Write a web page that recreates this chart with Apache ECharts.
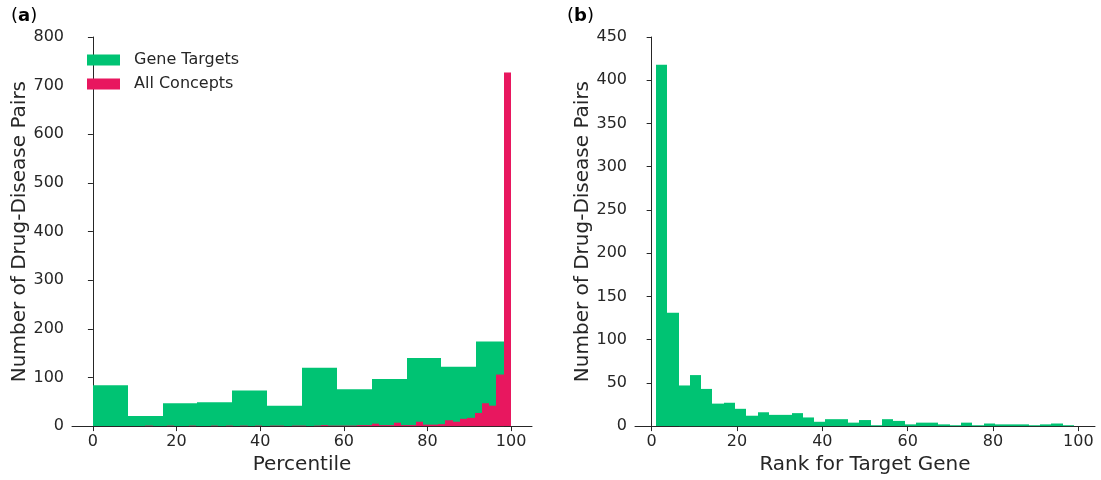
<!DOCTYPE html>
<html>
<head>
<meta charset="utf-8">
<script src="https://cdn.jsdelivr.net/npm/echarts@6/dist/echarts.min.js"></script>
<style>
html,body{margin:0;padding:0;background:#fff;}
#chart{width:1101px;height:480px;}
</style>
</head>
<body>
<div id="chart"></div>
<script>
// ---------- Data ----------
// Panel (a): Percentile histograms
const geneTargetsStart = 0;
const geneTargetsBinWidth = 100 / 12;
const geneTargetsCounts = [84, 21, 47, 49, 73, 42, 120, 76, 97, 140, 122, 174];

const allConceptsStart = 12.5;
const allConceptsBinWidth = 1.75;
const allConceptsCounts = [
  1, 0, 0, 1, 0, 0, 1, 0, 0, 1,
  0, 1, 0, 1, 0, 1, 0, 1, 1, 0,
  1, 1, 0, 1, 2, 1, 1, 1, 1, 2,
  2, 5, 2, 2, 7, 2, 2, 9, 3, 3,
  4, 12, 9, 15, 17, 27, 47, 42, 106, 727
];

// Panel (b): Rank for target gene histogram
const rankStart = 1;
const rankBinWidth = 98 / 37;
const rankCounts = [
  418, 131, 47, 59, 43, 26, 27, 20, 12, 16,
  13, 13, 15, 10, 5, 8, 8, 4, 7, 1,
  8, 6, 2, 4, 4, 2, 1, 4, 1, 3,
  2, 2, 2, 1, 2, 3, 1
];

const xTicks = [0, 20, 40, 60, 80, 100];
const seriesNames = ['Gene Targets', 'All Concepts'];
const xTitleA = 'Percentile';
const xTitleB = 'Rank for Target Gene';
const yTitle = 'Number of Drug-Disease Pairs';

// ---------- Styles ----------
const GREEN = '#00c373';
const PINK = '#e8175f';
const AXIS = '#262626';
const FONT = 'DejaVu Sans';

function binData(start, width, counts) {
  return counts.map((c, i) => [start + i * width, start + (i + 1) * width, c]);
}

function hist(name, start, width, counts, color, idx, z) {
  return {
    type: 'custom',
    name: name,
    xAxisIndex: idx,
    yAxisIndex: idx,
    z: z,
    itemStyle: { color: color },
    encode: { x: [0, 1], y: 2 },
    data: binData(start, width, counts),
    renderItem: function (params, api) {
      const p0 = api.coord([api.value(0), api.value(2)]);
      const p1 = api.coord([api.value(1), 0]);
      const x0 = Math.round(p0[0]);
      const x1 = Math.round(p1[0]);
      return {
        type: 'rect',
        shape: { x: x0, y: p0[1], width: x1 - x0, height: p1[1] - p0[1] },
        style: { fill: color }
      };
    }
  };
}

function xAxisDef(idx, min, max, title) {
  return {
    type: 'value', gridIndex: idx, min: min, max: max,
    name: title, nameLocation: 'middle', nameGap: 27,
    nameTextStyle: { fontFamily: FONT, fontSize: 20, color: AXIS },
    axisLine: { show: true, onZero: false, lineStyle: { color: AXIS, width: 1 } },
    axisTick: { show: true, length: 5, customValues: xTicks, lineStyle: { color: AXIS } },
    axisLabel: { customValues: xTicks, fontFamily: FONT, fontSize: 16, color: AXIS, margin: 8 },
    splitLine: { show: false }
  };
}

function yAxisDef(idx, max, interval) {
  return {
    type: 'value', gridIndex: idx, min: 0, max: max, interval: interval,
    name: yTitle, nameLocation: 'middle', nameGap: 42, nameRotate: 90,
    nameTextStyle: { fontFamily: FONT, fontSize: 20, color: AXIS },
    axisLine: { show: true, lineStyle: { color: AXIS, width: 1 } },
    axisTick: { show: true, length: 5, lineStyle: { color: AXIS } },
    axisLabel: { fontFamily: FONT, fontSize: 16, color: AXIS, margin: 8 },
    splitLine: { show: false }
  };
}

const chart = echarts.init(document.getElementById('chart'), null, { renderer: 'canvas' });
chart.setOption({
  animation: false,
  backgroundColor: '#ffffff',
  textStyle: { fontFamily: FONT },
  grid: [
    { left: 72, right: 569, top: 37, bottom: 52 },
    { left: 635, right: 6, top: 37, bottom: 52 }
  ],
  xAxis: [
    xAxisDef(0, -5, 105, xTitleA),
    xAxisDef(1, -3.9, 103.9, xTitleB)
  ],
  yAxis: [
    yAxisDef(0, 800, 100),
    yAxisDef(1, 450, 50)
  ],
  legend: {
    data: seriesNames,
    orient: 'vertical',
    left: 82, top: 47,
    icon: 'rect',
    itemWidth: 33, itemHeight: 11, itemGap: 8,
    selectedMode: false,
    textStyle: { fontFamily: FONT, fontSize: 16, color: AXIS, padding: [0, 0, 0, 9] }
  },
  graphic: [
    {
      type: 'text', left: 11, top: 7,
      style: {
        text: '{n|(}{b|a}{n|)}',
        rich: {
          n: { fontFamily: FONT, fontSize: 18, fill: '#000' },
          b: { fontFamily: FONT, fontSize: 18, fontWeight: 'bold', fill: '#000' }
        }
      }
    },
    {
      type: 'text', left: 567, top: 7,
      style: {
        text: '{n|(}{b|b}{n|)}',
        rich: {
          n: { fontFamily: FONT, fontSize: 18, fill: '#000' },
          b: { fontFamily: FONT, fontSize: 18, fontWeight: 'bold', fill: '#000' }
        }
      }
    }
  ],
  series: [
    hist(seriesNames[0], geneTargetsStart, geneTargetsBinWidth, geneTargetsCounts, GREEN, 0, 2),
    hist(seriesNames[1], allConceptsStart, allConceptsBinWidth, allConceptsCounts, PINK, 0, 3),
    hist(seriesNames[0], rankStart, rankBinWidth, rankCounts, GREEN, 1, 2)
  ]
});
</script>
</body>
</html>
